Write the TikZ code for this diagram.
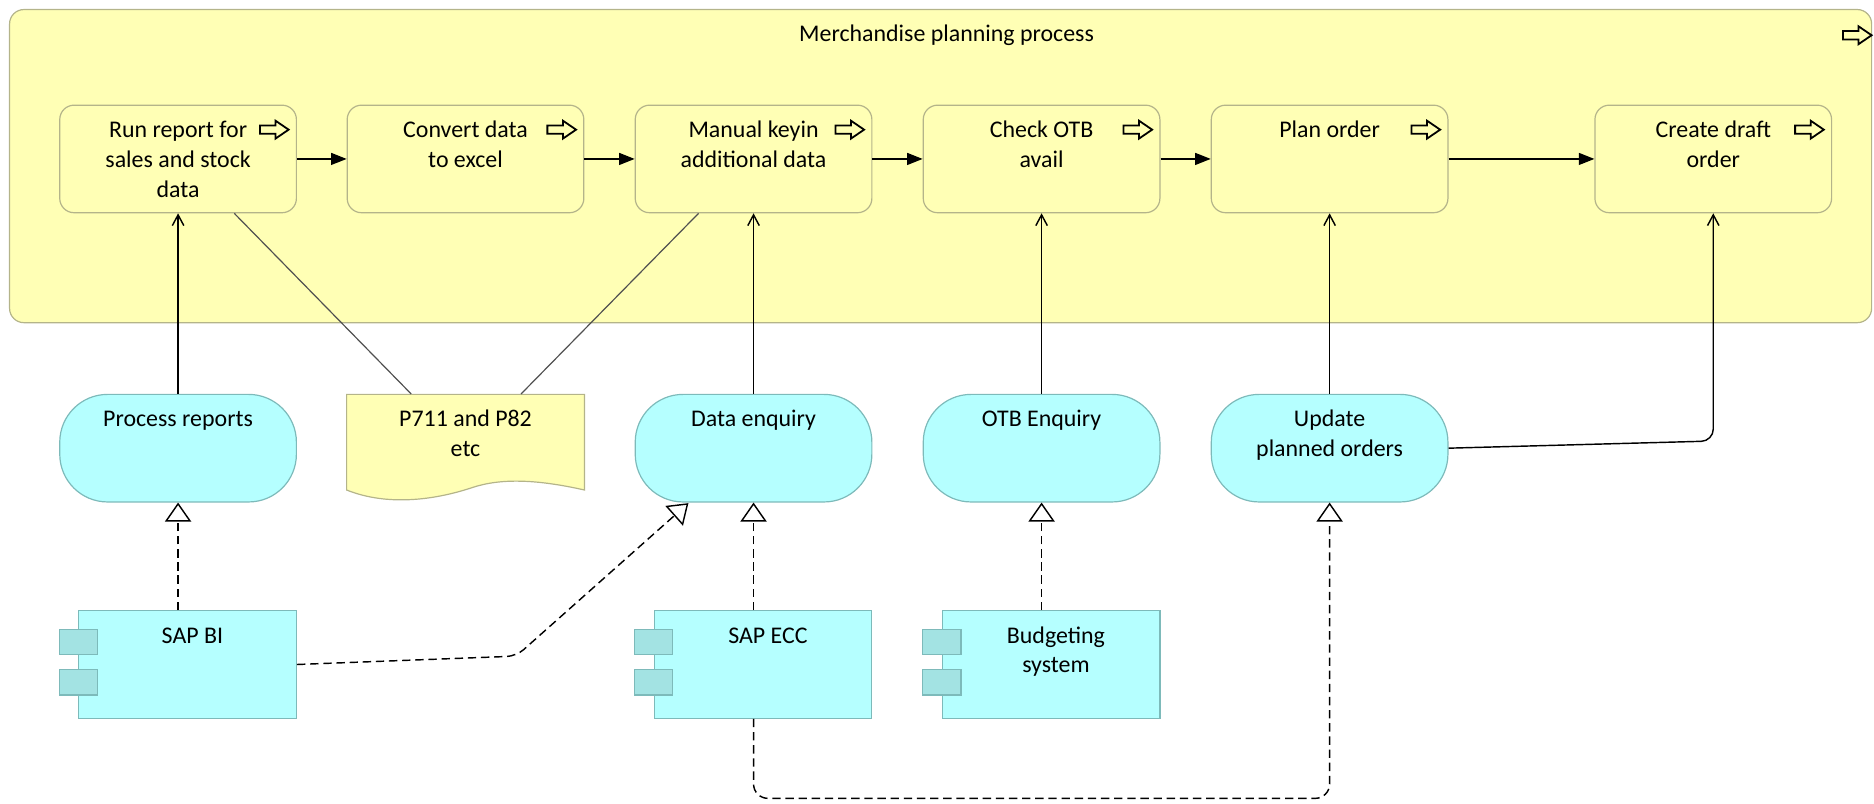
\documentclass[tikz,border=0pt]{standalone}
\usepackage{fontspec}
\setmainfont{Carlito}
\usetikzlibrary{arrows.meta,calc}
\definecolor{bizfill}{HTML}{FFFFB5}
\definecolor{bizline}{HTML}{B4B48A}
\definecolor{appfill}{HTML}{B5FFFF}
\definecolor{appline}{HTML}{7DBABA}
\definecolor{tabfill}{HTML}{A3E3E3}
\definecolor{assocgray}{HTML}{505050}
\newcommand\topstrut{\rule{0pt}{9pt}}
\tikzset{
  toplabel/.style={label={[anchor=north, inner sep=0pt, align=center, yshift=-4.6pt, text=black]north:#1}},
  comptext/.style={label={[anchor=north, inner sep=0pt, align=center, yshift=-4.6pt, xshift=2pt, text=black]north:#1}},
  procbox/.style={draw=bizline, fill=bizfill, rounded corners=6pt, minimum width=99pt, minimum height=45pt, inner sep=0pt, line width=0.5pt},
  container/.style={draw=bizline, fill=bizfill, rounded corners=6pt, minimum width=779pt, minimum height=131pt, inner sep=0pt, line width=0.5pt},
  service/.style={draw=appline, fill=appfill, rounded corners=20pt, minimum width=99pt, minimum height=45pt, inner sep=0pt, line width=0.5pt},
  comp/.style={draw=appline, fill=appfill, minimum width=91pt, minimum height=45pt, inner sep=0pt, line width=0.5pt},
  tabbox/.style={draw=appline, fill=tabfill, line width=0.5pt},
  docshape/.style={draw=bizline, fill=bizfill, line width=0.5pt},
  trig/.style={-{Triangle[length=6.5pt,width=5pt]}, line width=0.6pt},
  serve/.style={-{Straight Barb[length=4.5pt,width=4.8pt]}, line width=0.6pt},
  real/.style={-{Triangle[open,length=8pt,width=11pt]}, line width=0.6pt, dash pattern=on 3.5pt off 2pt},
  assoc/.style={line width=0.5pt, draw=assocgray},
  procicon/.pic={\draw[line width=0.75pt, line join=miter, fill=bizfill] (-12,-3.5) -- (1,-3.5) -- (1,-7.5) -- (12,0) -- (1,7.5) -- (1,3.5) -- (-12,3.5) -- cycle;}
}
\begin{document}
\begin{tikzpicture}[x=0.5pt, y=-0.5pt, font=\fontsize{10}{12.5}\selectfont]
\useasboundingbox (0,0) rectangle (1568,672);
% container
\node[container, label={[anchor=north, inner sep=0pt, yshift=-4.6pt, xshift=2.5pt, text=black]north:\topstrut Merchandise planning process}] (mpp) at (787,139) {};
\pic at (1554,29.5) {procicon};
% processes
\node[procbox, toplabel={\topstrut Run report for\\sales and stock\\data}] (run) at (149,133) {};
\node[procbox, toplabel={\topstrut Convert data\\to excel}] (conv) at (389.5,133) {};
\node[procbox, toplabel={\topstrut Manual keyin\\additional data}] (man) at (630.5,133) {};
\node[procbox, toplabel={\topstrut Check OTB\\avail}] (chk) at (871.5,133) {};
\node[procbox, toplabel={\topstrut Plan order}] (plan) at (1112.5,133) {};
\node[procbox, toplabel={\topstrut Create draft\\order}] (draft) at (1433.5,133) {};
\foreach \b in {run,conv,man,chk,plan,draft}{
  \pic at ($(\b.north east)+(-19,21)$) {procicon};
}
% triggering flow
\draw[trig] (run) -- (conv);
\draw[trig] (conv) -- (man);
\draw[trig] (man) -- (chk);
\draw[trig] (chk) -- (plan);
\draw[trig] (plan) -- (draft);
% services
\node[service, toplabel={\topstrut Process reports}] (prep) at (149,375) {};
\node[service, toplabel={\topstrut Data enquiry}] (dataenq) at (630.5,375) {};
\node[service, toplabel={\topstrut OTB Enquiry}] (otb) at (871.5,375) {};
\node[service, toplabel={\topstrut Update\\planned orders}] (upd) at (1112.5,375) {};
% document
\draw[docshape] (290,330) -- (489,330) -- (489,410)
  .. controls (449,401) and (419,400) .. (395,408)
  .. controls (365,418) and (325,424) .. (290,410) -- cycle;
\node[minimum width=99.5pt, minimum height=40pt, inner sep=0pt, toplabel={\topstrut P711 and P82\\etc}] (doc) at (389.5,370) {};
% components
\node[comp, comptext={\topstrut SAP BI}] (bi) at (157,556) {};
\node[comp, comptext={\topstrut SAP ECC}] (ecc) at (638.5,556) {};
\node[comp, comptext={\topstrut Budgeting\\system}] (bud) at (879.5,556) {};
\foreach \c in {bi,ecc,bud}{
  \draw[tabbox] ($(\c.north west)+(-16,16)$) rectangle ($(\c.north west)+(16,37)$);
  \draw[tabbox] ($(\c.north west)+(-16,50)$) rectangle ($(\c.north west)+(16,71)$);
}
% serving
\draw[serve] (prep.north) -- (run.south);
\draw[serve] (dataenq.north) -- (man.south);
\draw[serve] (otb.north) -- (chk.south);
\draw[serve] (upd.north) -- (plan.south);
\coordinate (c1) at (1433.5,369);
\draw[serve, rounded corners=5pt] (upd.east) -- (c1) -- (draft.south);
% association
\draw[assoc] ($(run.south)+(47,0)$) -- ($(doc.north)+(-45.5,0)$);
\draw[assoc] ($(man.south)+(-46,0)$) -- ($(doc.north)+(46.5,0)$);
% realization
\draw[real] (prep |- bi.north) -- (prep.south);
\draw[real] (dataenq |- ecc.north) -- (dataenq.south);
\draw[real] (otb |- bud.north) -- (otb.south);
\coordinate (c2) at (432,549);
\coordinate (c3) at (576,421);
\draw[real, rounded corners=4pt] (bi.east) -- (c2) -- (c3);
\coordinate (c4) at (630.5,668);
\coordinate (c5) at (1112.5,668);
\draw[real, rounded corners=6pt] (dataenq |- ecc.south) -- (c4) -- (c5) -- (upd.south);
\end{tikzpicture}
\end{document}
